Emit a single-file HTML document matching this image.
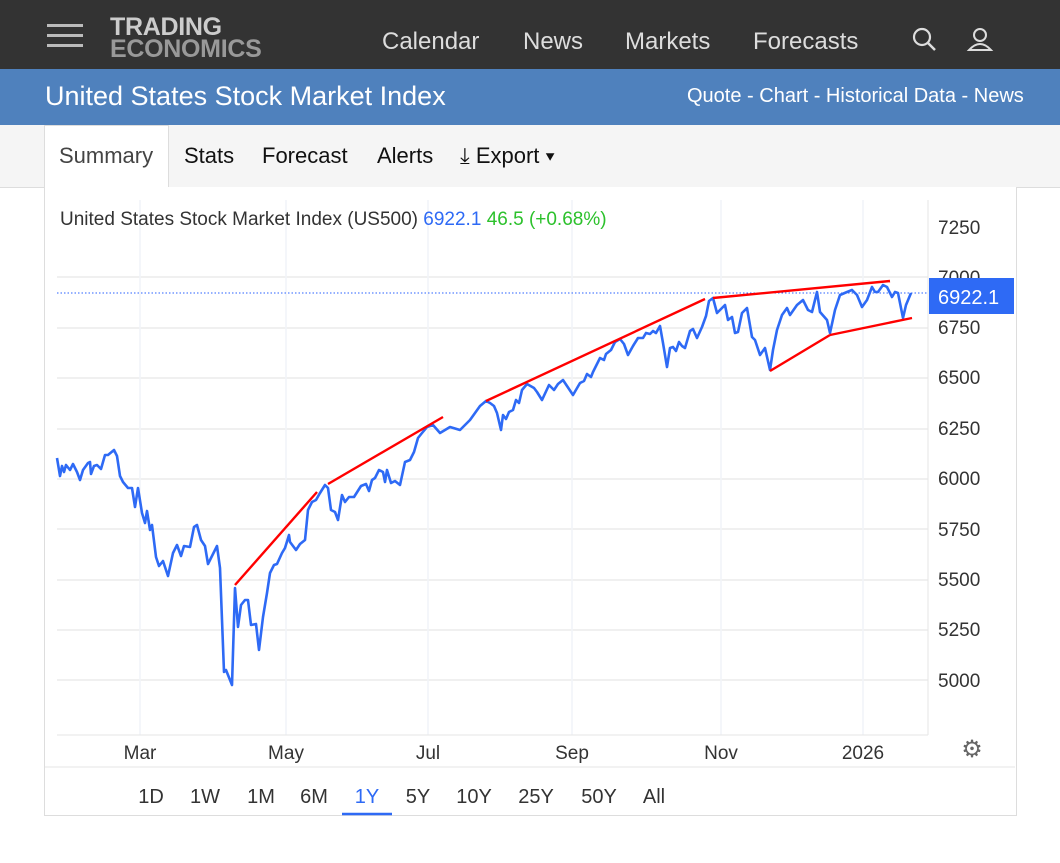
<!DOCTYPE html>
<html><head><meta charset="utf-8"><style>
body{margin:0;width:1060px;height:863px;background:#fff;font-family:"Liberation Sans",sans-serif;position:relative;overflow:hidden}
.top{position:absolute;left:0;top:0;width:1060px;height:69px;background:#333}
.blue{position:absolute;left:0;top:69px;width:1060px;height:56px;background:#4f81bd}
.tabs{position:absolute;left:0;top:125px;width:1060px;height:62px;background:#f5f5f5;border-bottom:1px solid #ddd}
.t{position:absolute;color:#fff}
.panel{position:absolute;left:44px;top:187px;width:971px;height:628px;border:1px solid #ddd;border-top:none;background:#fff}
</style></head><body>
<div class="top">
 <div style="position:absolute;left:47px;top:24px;width:36px;height:3px;background:#bbb;box-shadow:0 10px 0 #bbb,0 20px 0 #bbb"></div>
 <div style="position:absolute;left:110px;top:16px;color:#ccc;font-weight:bold;font-size:25px;line-height:22px;letter-spacing:-0.3px">TRADING<br><span style="color:#999">ECONOMICS</span></div>
 <div class="t" style="left:382px;top:28px;font-size:24px;color:#ddd">Calendar</div>
 <div class="t" style="left:523px;top:28px;font-size:24px;color:#ddd">News</div>
 <div class="t" style="left:625px;top:28px;font-size:24px;color:#ddd">Markets</div>
 <div class="t" style="left:753px;top:28px;font-size:24px;color:#ddd">Forecasts</div>
 <svg style="position:absolute;left:910px;top:26px" width="90" height="28"><circle cx="12" cy="11" r="8" stroke="#ddd" stroke-width="2.2" fill="none"/><line x1="18" y1="17" x2="25" y2="24" stroke="#ddd" stroke-width="2.5"/><circle cx="70" cy="9" r="6" stroke="#ddd" stroke-width="2" fill="none"/><path d="M59 24 Q70 12 81 24 Z" stroke="#ddd" stroke-width="2" fill="none"/></svg>
</div>
<div class="blue">
 <div class="t" style="left:45px;top:12px;font-size:27px">United States Stock Market Index</div>
 <div class="t" style="left:687px;top:16px;font-size:20px">Quote - Chart - Historical Data - News</div>
</div>
<div class="tabs">
 <div style="position:absolute;left:44px;top:0;width:125px;height:63px;background:#fff;border:1px solid #ddd;border-bottom:none;box-sizing:border-box"></div>
 <div style="position:absolute;left:59px;top:18px;font-size:22px;color:#444">Summary</div>
 <div style="position:absolute;left:184px;top:18px;font-size:22px;color:#111">Stats</div>
 <div style="position:absolute;left:262px;top:18px;font-size:22px;color:#111">Forecast</div>
 <div style="position:absolute;left:377px;top:18px;font-size:22px;color:#111">Alerts</div>
 <div style="position:absolute;left:460px;top:18px;font-size:22px;color:#111">⤓ Export ▾</div>
</div>
<div class="panel"></div>
<svg style="position:absolute;left:0;top:0" width="1060" height="863">
 <g stroke="#ececec" stroke-width="1.5">
  <line x1="57" x2="928" y1="277" y2="277"/><line x1="57" x2="928" y1="328" y2="328"/><line x1="57" x2="928" y1="378" y2="378"/><line x1="57" x2="928" y1="429" y2="429"/><line x1="57" x2="928" y1="479" y2="479"/><line x1="57" x2="928" y1="529" y2="529"/><line x1="57" x2="928" y1="580" y2="580"/><line x1="57" x2="928" y1="630" y2="630"/><line x1="57" x2="928" y1="680" y2="680"/>
 </g>
 <g stroke="#f1f4f8" stroke-width="1.5"><line x1="140" x2="140" y1="200" y2="735"/><line x1="286" x2="286" y1="200" y2="735"/><line x1="428" x2="428" y1="200" y2="735"/><line x1="572" x2="572" y1="200" y2="735"/><line x1="721" x2="721" y1="200" y2="735"/><line x1="863" x2="863" y1="200" y2="735"/></g>
 <line x1="928" x2="928" y1="200" y2="735" stroke="#e6e6e6"/>
 <line x1="57" x2="928" y1="735" y2="735" stroke="#e6e6e6"/>
 <line x1="57" x2="928" y1="293" y2="293" stroke="#2962ff" stroke-dasharray="1.5,2" stroke-width="1"/>
 <polyline fill="none" stroke="#2e6af5" stroke-width="2.6" stroke-linejoin="round" points="57,458 60,476 62,466 64,472 66,465 70,470 73,464 77,472 80,480 83,470 88,463 90,462 91,474 94,466 97,465 101,469 105,455 108,455 114,450 117,456 120,476 123,482 128,488 132,488 135,507 138,488 142,513 145,523 147,511 150,530 152,525 156,557 159,566 163,561 168,576 173,553 177,545 181,556 184,546 190,547 194,527 197,525 201,540 205,546 208,564 217,546 220,568 224,672 226,670 232,685 235,588 238,627 241,605 245,600 248,600 251,625 256,624 259,650 263,617 267,593 270,573 274,565 277,564 282,553 285,548 289,535 290,542 296,550 300,544 305,540 308,510 312,502 316,500 320,493 325,485 328,488 331,510 335,512 338,520 342,495 345,502 349,497 354,497 361,486 366,484 369,491 372,480 375,478 379,470 383,472 385,482 387,470 391,483 395,481 400,485 405,462 410,460 414,452 418,438 422,433 427,427 433,425 440,433 450,427 460,430 470,420 480,406 486,401 490,403 494,406 497,413 501,430 503,415 506,419 509,412 513,410 516,400 519,403 522,390 527,384 534,388 537,392 542,400 549,385 554,390 558,384 563,380 567,386 573,395 580,383 584,381 587,374 591,377 593,372 597,364 600,358 604,360 606,354 611,350 615,342 620,339 624,344 628,355 633,346 638,338 643,338 646,333 650,334 653,331 656,333 660,326 663,343 667,367 670,348 673,347 676,351 679,342 682,346 685,348 690,331 693,329 697,338 702,327 706,316 709,301 713,298 717,313 725,305 728,320 732,317 735,333 738,332 742,313 747,308 752,337 755,340 760,355 765,348 770,370 773,350 777,330 782,315 787,308 790,315 797,305 803,300 808,310 812,312 817,292 820,312 827,320 830,333 835,310 840,295 847,292 852,290 857,295 862,307 867,300 872,287 875,292 878,292 883,285 887,287 892,297 895,292 898,293 903,318 906,305 911,293"/>
 <g stroke="#f00" stroke-width="2.4"><line x1="235" y1="585" x2="317" y2="492"/><line x1="328" y1="484" x2="443" y2="417"/><line x1="486" y1="401" x2="705" y2="299"/><line x1="713" y1="298" x2="890" y2="281"/><line x1="770" y1="371" x2="830" y2="335"/><line x1="830" y1="335" x2="912" y2="318"/></g>
 <g font-size="19" fill="#333" font-family="Liberation Sans"><text x="938" y="234">7250</text><text x="938" y="284">7000</text><text x="938" y="334">6750</text><text x="938" y="384">6500</text><text x="938" y="435">6250</text><text x="938" y="485">6000</text><text x="938" y="536">5750</text><text x="938" y="586">5500</text><text x="938" y="636">5250</text><text x="938" y="687">5000</text>
 <g text-anchor="middle"><text x="140" y="759">Mar</text><text x="286" y="759">May</text><text x="428" y="759">Jul</text><text x="572" y="759">Sep</text><text x="721" y="759">Nov</text><text x="863" y="759">2026</text></g></g>
 <rect x="929" y="278" width="85" height="36" fill="#2e6af5"/>
 <text x="938" y="304" font-size="20" fill="#fff" font-family="Liberation Sans">6922.1</text>
 <text x="60" y="225" font-size="19" fill="#333" font-family="Liberation Sans">United States Stock Market Index (US500) <tspan fill="#2e6af5">6922.1</tspan> <tspan fill="#2cc12c">46.5 (+0.68%)</tspan></text>
 <text x="972" y="757" font-size="24" fill="#666" text-anchor="middle" font-family="DejaVu Sans">⚙</text>
 <line x1="45" x2="1015" y1="767" y2="767" stroke="#e6e6e6"/>
 <g font-size="20" fill="#333" font-family="Liberation Sans" text-anchor="middle"><text x="151" y="803">1D</text><text x="205" y="803">1W</text><text x="261" y="803">1M</text><text x="314" y="803">6M</text><text x="367" y="803" fill="#2e6af5">1Y</text><text x="418" y="803">5Y</text><text x="474" y="803">10Y</text><text x="536" y="803">25Y</text><text x="599" y="803">50Y</text><text x="654" y="803">All</text></g>
 <line x1="342" x2="392" y1="814" y2="814" stroke="#2e6af5" stroke-width="2.5"/>
</svg>
</body></html>
